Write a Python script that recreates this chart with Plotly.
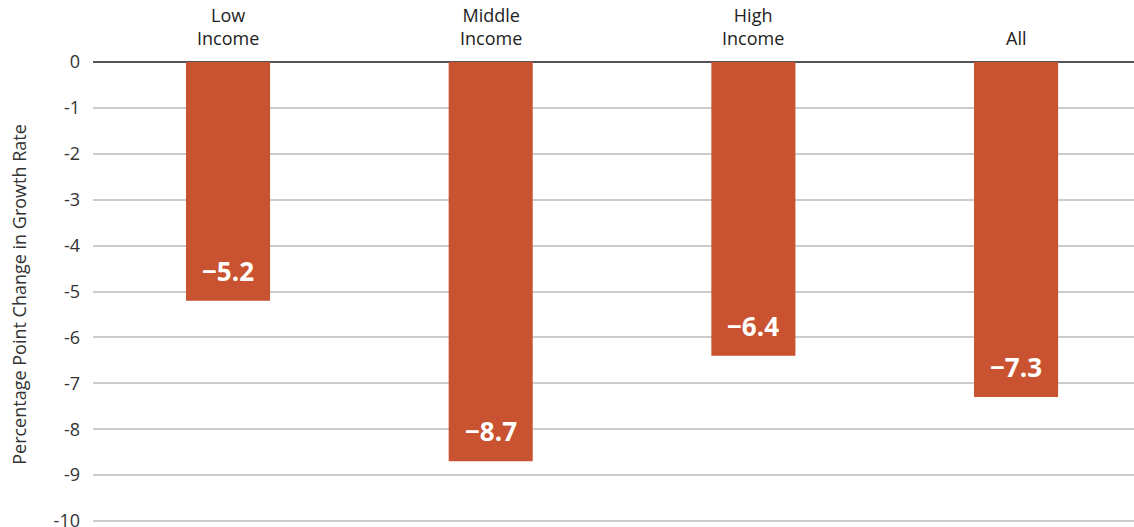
import plotly.graph_objects as go

categories = ["Low<br>Income", "Middle<br>Income", "High<br>Income", "All"]
values = [-5.2, -8.7, -6.4, -7.3]
labels = ["\u22125.2", "\u22128.7", "\u22126.4", "\u22127.3"]
tick_vals = [0, -1, -2, -3, -4, -5, -6, -7, -8, -9, -10]
tick_text = ["0", "-1", "-2", "-3", "-4", "-5", "-6", "-7", "-8", "-9", "-10"]

xpos = list(range(len(categories)))
bar_color = "#C95330"

fig = go.Figure()
fig.add_trace(go.Bar(x=xpos, y=values, width=0.32, marker=dict(color=bar_color, line=dict(width=0)),
                     hoverinfo="skip"))

for i, (v, lab, cat) in enumerate(zip(values, labels, categories)):
    fig.add_annotation(x=i, y=v, text="<b>" + lab + "</b>", showarrow=False, yanchor="middle",
                       yshift=30, font=dict(family="Open Sans", size=26, color="white"))
    fig.add_annotation(x=i, y=0, text=cat, showarrow=False, yanchor="bottom", yshift=10,
                       font=dict(family="Open Sans", size=18, color="#222222"))

fig.update_layout(
    width=1134, height=527,
    margin=dict(l=93, r=0, t=62, b=0),
    plot_bgcolor="white", paper_bgcolor="white",
    showlegend=False,
    xaxis=dict(range=[-0.514, 3.449], showticklabels=False, showgrid=False, zeroline=False,
               fixedrange=True, automargin=False),
    yaxis=dict(range=[-10.13, 0], tickvals=tick_vals, ticktext=tick_text,
               showgrid=True, gridcolor="#cccccc", gridwidth=2,
               zeroline=True, zerolinecolor="#555555", zerolinewidth=2,
               ticks="", ticklabelstandoff=12, ticklabeloverflow="allow", automargin=False,
               tickfont=dict(family="Open Sans", size=18, color="#333333"),
               title=dict(text="Percentage Point Change in Growth Rate", standoff=22,
                          font=dict(family="Open Sans", size=18, color="#333333"))),
)
fig.write_html("out.html")
